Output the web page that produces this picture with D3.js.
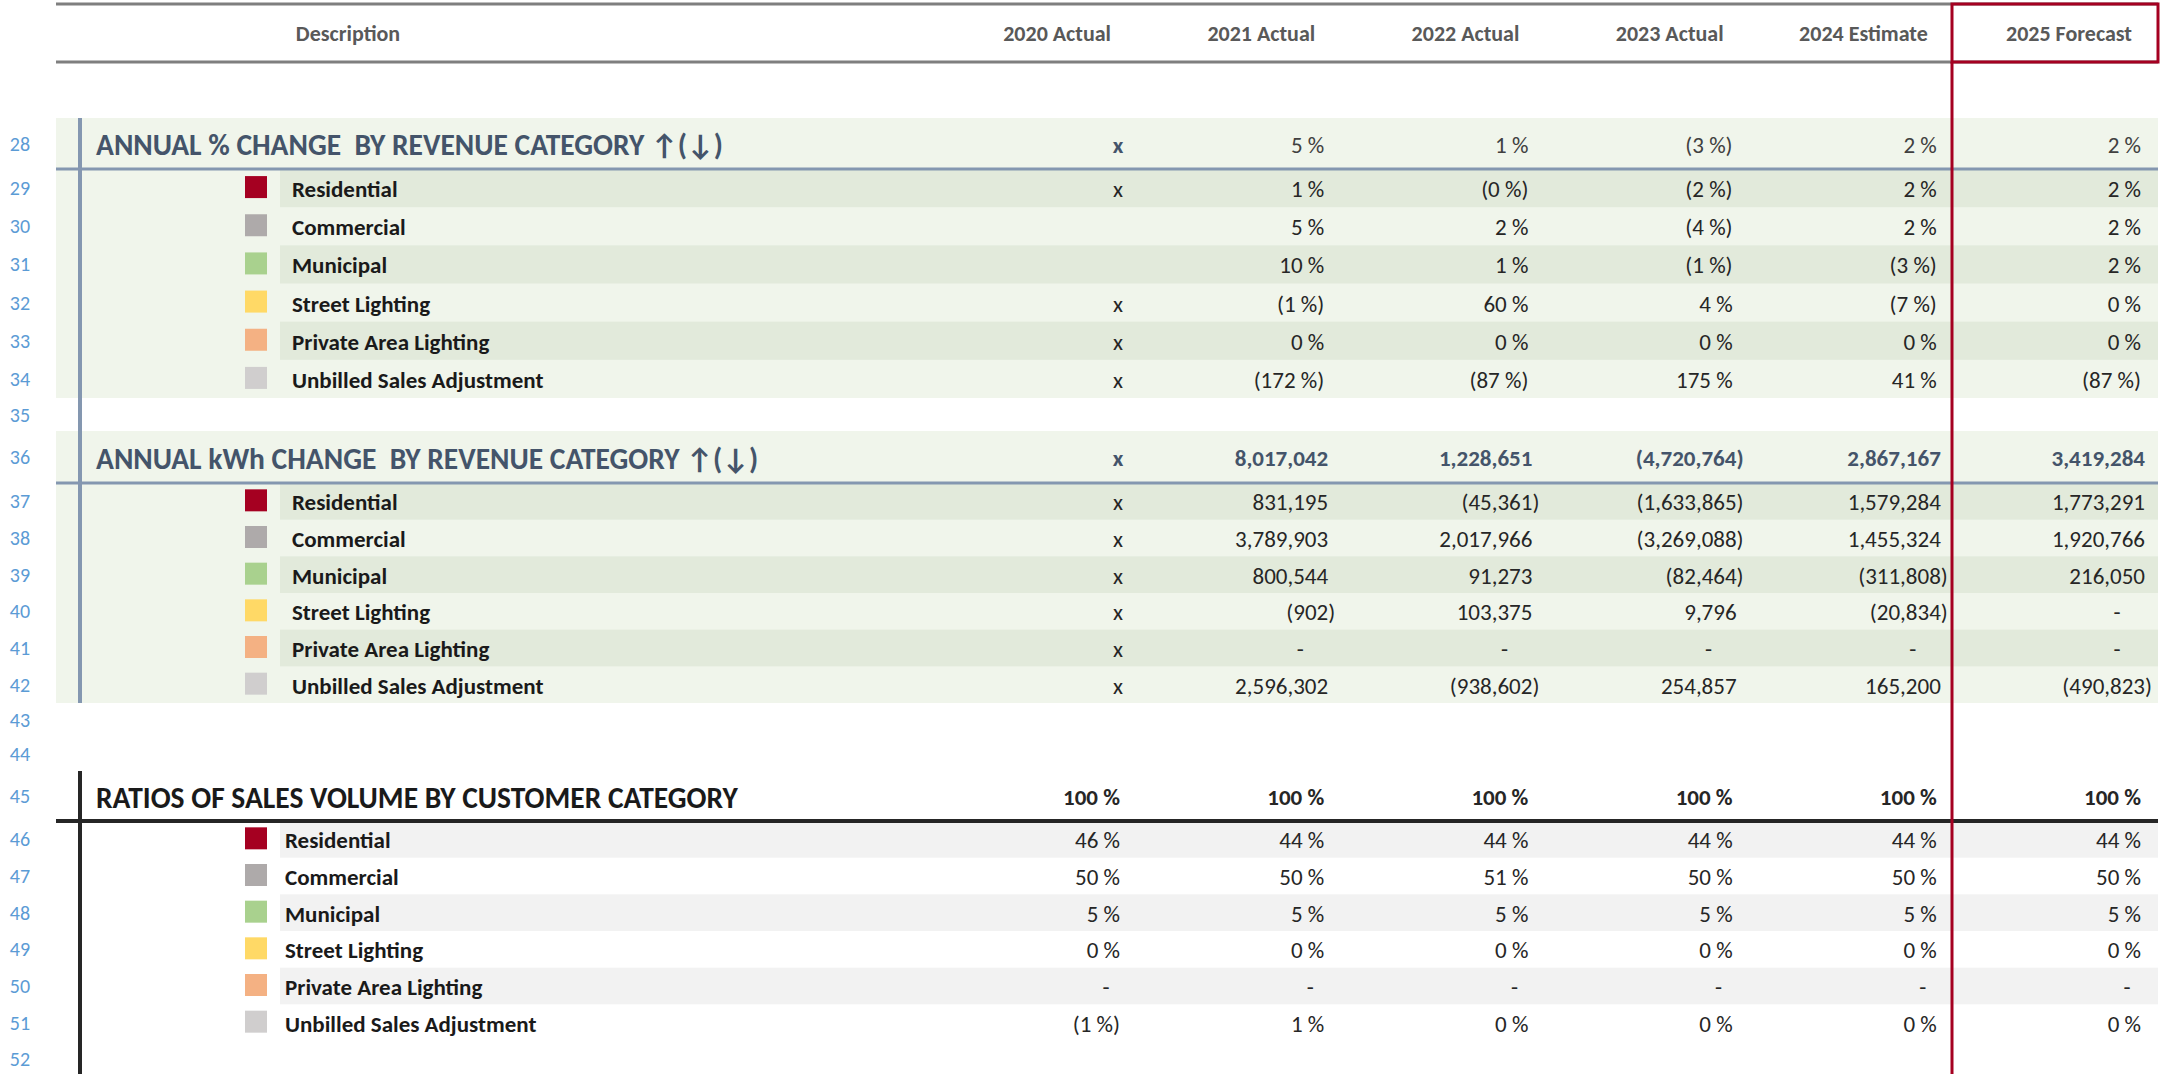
<!DOCTYPE html>
<html>
<head>
<meta charset="utf-8">
<script src="https://cdn.jsdelivr.net/npm/d3@7"></script>
<style>
  html, body { margin: 0; padding: 0; background: #fff; }
  svg { display: block; }
  text { font-family: Carlito, Calibri, Lato, "Open Sans", sans-serif; white-space: pre; }
</style>
</head>
<body>
<svg id="chart"></svg>
<script>
// 年度欄位 / 類別
const YEARS = ["2020 Actual", "2021 Actual", "2022 Actual", "2023 Actual", "2024 Estimate", "2025 Forecast"];
const CATEGORIES = ["Residential", "Commercial", "Municipal", "Street Lighting", "Private Area Lighting", "Unbilled Sales Adjustment"];
const CATEGORY_COLORS = ["#a50021", "#aeaaaa", "#a9d18e", "#ffd966", "#f4b183", "#d0cece"];

// ANNUAL % CHANGE（"x" = 無前一年，"" = 空白）
const PCT_TOTAL = ["x", 5, 1, -3, 2, 2];
const PCT_ROWS = [
  ["x", 1, -0.2, -2, 2, 2],
  ["", 5, 2, -4, 2, 2],
  ["", 10, 1, -1, -3, 2],
  ["x", -1, 60, 4, -7, 0],
  ["x", 0, 0, 0, 0, 0],
  ["x", -172, -87, 175, 41, -87],
];

// ANNUAL kWh CHANGE
const KWH_TOTAL = ["x", 8017042, 1228651, -4720764, 2867167, 3419284];
const KWH_ROWS = [
  ["x", 831195, -45361, -1633865, 1579284, 1773291],
  ["x", 3789903, 2017966, -3269088, 1455324, 1920766],
  ["x", 800544, 91273, -82464, -311808, 216050],
  ["x", -902, 103375, 9796, -20834, 0],
  ["x", 0, 0, 0, 0, 0],
  ["x", 2596302, -938602, 254857, 165200, -490823],
];

// RATIOS OF SALES VOLUME
const RATIO_TOTAL = [100, 100, 100, 100, 100, 100];
const RATIO_ROWS = [
  [46, 44, 44, 44, 44, 44],
  [50, 50, 51, 50, 50, 50],
  [5, 5, 5, 5, 5, 5],
  [0.2, 0.2, 0.2, 0.2, 0.2, 0.2],
  [0, 0, 0, 0, 0, 0],
  [-1, 1, 0.2, 0.2, 0.2, 0.2],
];

const W = 2177, H = 1074;
const LEFT = 56, RIGHT = 2158;
const FORECAST_X = 1952;
const VALUE_SIZE = 23;

const svg = d3.select("#chart").attr("width", W).attr("height", H);

// 欄位右緣（數字靠右對齊）
const x = d3.scalePoint().domain(YEARS).range([1120, 2141]);

const fmtInt = d3.format(",");
function pctText(v) {
  if (v === "x" || v === "") return v;
  return v < 0 ? `(${Math.round(-v)} %)` : `${Math.round(v)} %`;
}

// 依格式決定文字內容與位置（會計格式：正數留右括號空位，零顯示 "-"）
function cellFor(kind, v, col) {
  const r = x(col);
  if (v === "x") return { text: "x", x: r - 2, anchor: "middle" };
  if (v === "") return null;
  if (kind === "pct") return { text: pctText(v), x: r, anchor: "end" };
  if (kind === "ratio") {
    if (v === 0) return { text: "-", x: r - 14, anchor: "middle" };
    return { text: pctText(v), x: r, anchor: "end" };
  }
  // kWh
  if (v === 0) return { text: "-", x: r - 24, anchor: "middle" };
  if (v < 0) return { text: `(${fmtInt(-v)})`, x: r + 11, anchor: "end" };
  return { text: fmtInt(v), x: r + 4, anchor: "end" };
}

// ---------- 表頭 ----------
svg.append("line").attr("x1", LEFT).attr("x2", RIGHT).attr("y1", 4).attr("y2", 4)
  .attr("stroke", "#7f7f7f").attr("stroke-width", 3);
svg.append("line").attr("x1", LEFT).attr("x2", RIGHT).attr("y1", 62).attr("y2", 62)
  .attr("stroke", "#7f7f7f").attr("stroke-width", 3);

svg.append("text").attr("x", 348).attr("y", 41).attr("text-anchor", "middle")
  .attr("font-size", 22).attr("font-weight", 700).attr("fill", "#595959").text("Description");

svg.selectAll(".year-head").data(YEARS).enter().append("text")
  .attr("class", "year-head")
  .attr("x", (d) => x(d) - 9).attr("y", 41).attr("text-anchor", "end")
  .attr("font-size", 22).attr("font-weight", 700).attr("fill", "#595959")
  .text((d) => d);

// ---------- 三個區塊 ----------
const SECTIONS = [
  {
    title: "ANNUAL % CHANGE  BY REVENUE CATEGORY ↑(↓)", kind: "pct",
    top: 118, head: 169, bottom: 398, barBottom: 431, rowNum: 28,
    bg: "#f0f5eb", stripe: "#e2eadb", accent: "#8497b0", accentW: 3,
    titleColor: "#44546a", totalColor: "#404040", totalWeight: 400, labelX: 292,
    totals: PCT_TOTAL, rows: PCT_ROWS,
  },
  {
    title: "ANNUAL kWh CHANGE  BY REVENUE CATEGORY ↑(↓)", kind: "kwh",
    top: 431, head: 483, bottom: 703, barBottom: 703, rowNum: 36,
    bg: "#f0f5eb", stripe: "#e2eadb", accent: "#8497b0", accentW: 3,
    titleColor: "#44546a", totalColor: "#44546a", totalWeight: 700, labelX: 292,
    totals: KWH_TOTAL, rows: KWH_ROWS,
  },
  {
    title: "RATIOS OF SALES VOLUME BY CUSTOMER CATEGORY", kind: "ratio",
    top: 771, head: 821, bottom: 1041, barBottom: H, rowNum: 45,
    bg: null, stripe: "#f2f2f2", accent: "#262626", accentW: 4,
    titleColor: "#1a1a1a", totalColor: "#262626", totalWeight: 700, labelX: 285,
    totals: RATIO_TOTAL, rows: RATIO_ROWS,
  },
];

const rowNumbers = [];

SECTIONS.forEach((s) => {
  const g = svg.append("g");
  const y = d3.scaleBand().domain(CATEGORIES).range([s.head, s.bottom]);
  const titleMid = (s.top + s.head) / 2;

  if (s.bg) {
    g.append("rect").attr("x", LEFT).attr("y", s.top)
      .attr("width", RIGHT - LEFT).attr("height", s.bottom - s.top).attr("fill", s.bg);
  }
  // 交錯底色列
  g.selectAll(".stripe").data(CATEGORIES.filter((_, i) => i % 2 === 0)).enter().append("rect")
    .attr("x", 280).attr("y", (d) => y(d))
    .attr("width", RIGHT - 280).attr("height", y.bandwidth()).attr("fill", s.stripe);

  // 標題
  g.append("text").attr("x", 96).attr("y", titleMid + 11.5)
    .attr("font-size", 29.5).attr("font-weight", 700).attr("fill", s.titleColor).text(s.title);

  s.totals.forEach((v, i) => {
    const c = cellFor(s.kind, v, YEARS[i]);
    if (!c) return;
    const isX = v === "x";
    g.append("text").attr("x", c.x).attr("y", titleMid + 9).attr("text-anchor", c.anchor)
      .attr("font-size", VALUE_SIZE)
      .attr("font-weight", isX ? 700 : s.totalWeight)
      .attr("fill", isX ? "#44546a" : s.totalColor)
      .text(c.text);
  });

  // 類別色塊與名稱
  g.selectAll(".swatch").data(CATEGORIES).enter().append("rect")
    .attr("x", 245).attr("y", (d) => y(d) + y.bandwidth() / 2 - 12)
    .attr("width", 22).attr("height", 22)
    .attr("fill", (d, i) => CATEGORY_COLORS[i]);
  g.selectAll(".label").data(CATEGORIES).enter().append("text")
    .attr("x", s.labelX).attr("y", (d) => y(d) + y.bandwidth() / 2 + 9)
    .attr("font-size", 23).attr("font-weight", 700).attr("fill", "#1a1a1a")
    .text((d) => d);

  // 各列數值
  s.rows.forEach((row, ri) => {
    const cy = y(CATEGORIES[ri]) + y.bandwidth() / 2;
    row.forEach((v, ci) => {
      const c = cellFor(s.kind, v, YEARS[ci]);
      if (!c) return;
      g.append("text").attr("x", c.x).attr("y", cy + 9).attr("text-anchor", c.anchor)
        .attr("font-size", VALUE_SIZE).attr("fill", "#262626").text(c.text);
    });
  });

  // 左側豎條與標題底線
  g.append("line").attr("x1", LEFT).attr("x2", RIGHT).attr("y1", s.head).attr("y2", s.head)
    .attr("stroke", s.accent).attr("stroke-width", s.accentW);
  g.append("line").attr("x1", 80).attr("x2", 80).attr("y1", s.top).attr("y2", s.barBottom)
    .attr("stroke", s.accent).attr("stroke-width", 4);

  rowNumbers.push({ n: s.rowNum, y: titleMid });
  CATEGORIES.forEach((c, i) => rowNumbers.push({ n: s.rowNum + 1 + i, y: y(c) + y.bandwidth() / 2 }));
});

// 空白列的列號
rowNumbers.push({ n: 35, y: (398 + 431) / 2 });
rowNumbers.push({ n: 43, y: 703 + (771 - 703) / 4 });
rowNumbers.push({ n: 44, y: 703 + (771 - 703) * 3 / 4 });
rowNumbers.push({ n: 52, y: 1041 + 18 });

svg.selectAll(".row-num").data(rowNumbers).enter().append("text")
  .attr("class", "row-num")
  .attr("x", 20).attr("y", (d) => d.y + 7).attr("text-anchor", "middle")
  .attr("font-size", 20).attr("fill", "#5b9bd5").text((d) => d.n);

// 預測欄紅框與紅線
svg.append("rect").attr("x", FORECAST_X).attr("y", 4)
  .attr("width", RIGHT - FORECAST_X).attr("height", 58)
  .attr("fill", "none").attr("stroke", "#a50021").attr("stroke-width", 3);
svg.append("line").attr("x1", FORECAST_X).attr("x2", FORECAST_X).attr("y1", 62).attr("y2", H)
  .attr("stroke", "#a50021").attr("stroke-width", 3);
</script>
</body>
</html>
